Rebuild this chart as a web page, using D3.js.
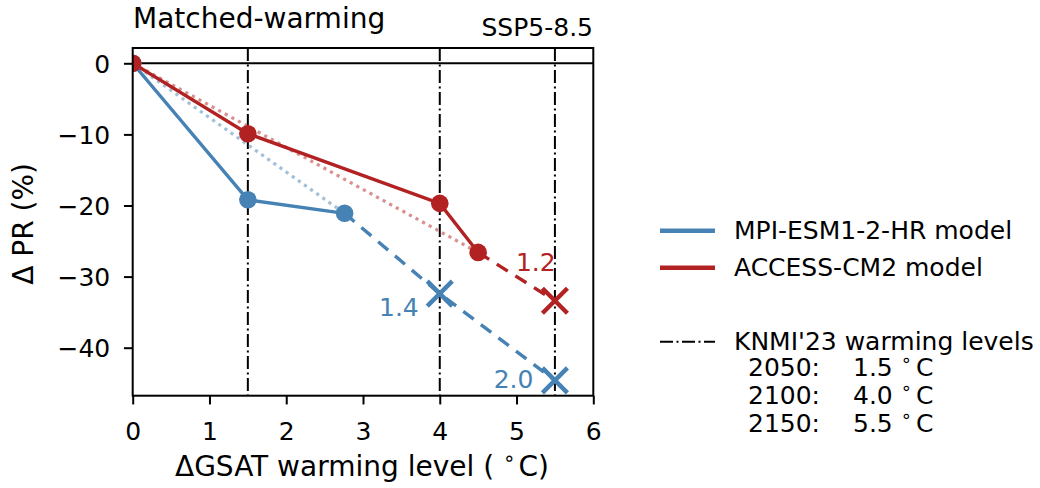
<!DOCTYPE html>
<html>
<head>
<meta charset="utf-8">
<script src="https://cdn.jsdelivr.net/npm/d3@7"></script>
<style>
  html, body { margin: 0; padding: 0; background: #fff; }
  svg { display: block; }
  text { font-family: "DejaVu Sans", sans-serif; fill: #000; }
</style>
</head>
<body>
<svg id="chart" width="1040" height="488"></svg>
<script>
// ---------------- data ----------------
const xTicks = [0, 1, 2, 3, 4, 5, 6];
const yTicks = [0, -10, -20, -30, -40];
const warmingLevels = [1.5, 4.0, 5.5];
const warmingYears = ["2050", "2100", "2150"];
const seriesNames = ["MPI-ESM1-2-HR model", "ACCESS-CM2 model"];
const seriesColors = ["#4682b4", "#b22222"];

// MPI-ESM1-2-HR: simulated warming levels
const mpiX = [0, 1.5, 2.76];
const mpiY = [0, -19.2, -21.1];
// MPI-ESM1-2-HR: extrapolated
const mpiExtX = [2.76, 4.0, 5.5];
const mpiExtY = [-21.1, -32.4, -44.6];
const mpiExtLabels = ["", "1.4", "2.0"];

// ACCESS-CM2: simulated warming levels
const accX = [0, 1.5, 4.0, 4.5];
const accY = [0, -9.9, -19.7, -26.6];
// ACCESS-CM2: extrapolated
const accExtX = [4.5, 5.5];
const accExtY = [-26.6, -33.4];
const accExtLabels = ["", "1.2"];

// ---------------- layout ----------------
const svg = d3.select("#chart");
const L = 132.7, R = 593.3, T = 48, B = 395.7;
const x = d3.scaleLinear().domain([0, 6]).range([L, R]);
const y = d3.scaleLinear().domain([-46.75, 2.15]).range([B, T]);
const FS = 25;   // ticks, legend, annotations
const FL = 28;   // axis labels, title

svg.append("rect").attr("width", 1040).attr("height", 488).attr("fill", "#fff");

svg.append("defs").append("clipPath").attr("id", "clip")
  .append("rect").attr("x", L).attr("y", T).attr("width", R - L).attr("height", B - T);

const plot = svg.append("g").attr("clip-path", "url(#clip)");

// zero line
plot.append("line")
  .attr("x1", L).attr("x2", R).attr("y1", y(0)).attr("y2", y(0))
  .attr("stroke", "#000").attr("stroke-width", 2);

// warming level vertical lines
plot.selectAll(".wl").data(warmingLevels).enter().append("line")
  .attr("x1", d => x(d)).attr("x2", d => x(d))
  .attr("y1", T).attr("y2", B)
  .attr("stroke", "#000").attr("stroke-width", 2)
  .attr("stroke-dasharray", "13,3.5,2,3.5");

const line = d3.line().x(d => x(d[0])).y(d => y(d[1]));
const zip = (a, b) => a.map((v, i) => [v, b[i]]);

const series = [
  { xs: mpiX, ys: mpiY, ex: mpiExtX, ey: mpiExtY, labels: mpiExtLabels, color: seriesColors[0] },
  { xs: accX, ys: accY, ex: accExtX, ey: accExtY, labels: accExtLabels, color: seriesColors[1] }
];

// dotted trend lines (first to last simulated point)
series.forEach(s => {
  const pts = zip(s.xs, s.ys);
  plot.append("path")
    .attr("d", line([pts[0], pts[pts.length - 1]]))
    .attr("fill", "none").attr("stroke", s.color).attr("stroke-opacity", 0.5)
    .attr("stroke-width", 3.2).attr("stroke-dasharray", "3.2,4.3");
});

// solid + dashed lines
series.forEach(s => {
  plot.append("path")
    .attr("d", line(zip(s.xs, s.ys)))
    .attr("fill", "none").attr("stroke", s.color).attr("stroke-width", 3.4);
  plot.append("path")
    .attr("d", line(zip(s.ex, s.ey)))
    .attr("fill", "none").attr("stroke", s.color).attr("stroke-width", 3.4)
    .attr("stroke-dasharray", "13,9");
});

// markers
series.forEach(s => {
  plot.selectAll(null).data(zip(s.xs, s.ys)).enter().append("circle")
    .attr("cx", d => x(d[0])).attr("cy", d => y(d[1])).attr("r", 8.8)
    .attr("fill", s.color);
  const cr = zip(s.ex, s.ey).slice(1);
  const h = 12.5;
  plot.selectAll(null).data(cr).enter().append("path")
    .attr("d", d => {
      const cx = x(d[0]), cy = y(d[1]);
      return `M${cx - h},${cy - h}L${cx + h},${cy + h}M${cx - h},${cy + h}L${cx + h},${cy - h}`;
    })
    .attr("stroke", s.color).attr("stroke-width", 4.4).attr("fill", "none");
});

// labels at extrapolated points
const labelOffsets = { "1.4": [-21, 22.4], "2.0": [-21.5, 7.6], "1.2": [0.8, -29.3] };
series.forEach(s => {
  zip(s.ex, s.ey).forEach((d, i) => {
    const t = s.labels[i];
    if (!t) return;
    const o = labelOffsets[t];
    svg.append("text")
      .attr("x", x(d[0]) + o[0]).attr("y", y(d[1]) + o[1])
      .attr("text-anchor", "end").attr("font-size", FS)
      .style("fill", s.color).text(t);
  });
});

// axes
const xAxis = svg.append("g").attr("transform", `translate(0,${B})`)
  .call(d3.axisBottom(x).tickValues(xTicks).tickSize(8.75).tickFormat(d3.format("d")));
xAxis.select(".domain").remove();
xAxis.selectAll(".tick line").attr("stroke", "#000").attr("stroke-width", 2);
xAxis.selectAll(".tick text").attr("y", 44.8).attr("dy", null)
  .attr("font-size", FS).attr("font-family", "DejaVu Sans").style("fill", "#000");

const yAxis = svg.append("g").attr("transform", `translate(${L},0)`)
  .call(d3.axisLeft(y).tickValues(yTicks).tickSize(8.75)
    .tickFormat(d => d < 0 ? "\u2212" + Math.abs(d) : String(d)));
yAxis.select(".domain").remove();
yAxis.selectAll(".tick line").attr("stroke", "#000").attr("stroke-width", 2);
yAxis.selectAll(".tick text").attr("x", -22.5).attr("dy", "0.37em")
  .attr("font-size", FS).attr("font-family", "DejaVu Sans").style("fill", "#000");

// spines
svg.append("rect").attr("x", L).attr("y", T).attr("width", R - L).attr("height", B - T)
  .attr("fill", "none").attr("stroke", "#000").attr("stroke-width", 2);

// titles
svg.append("text").attr("x", 133).attr("y", 28.3).attr("font-size", FL).text("Matched-warming");
svg.append("text").attr("x", 593).attr("y", 35.7).attr("text-anchor", "end")
  .attr("font-size", FS).text("SSP5-8.5");

// axis labels
const xl = svg.append("text").attr("x", (L + R) / 2 - 1).attr("y", 476).attr("text-anchor", "middle")
  .attr("font-size", FL);
xl.append("tspan").text("\u0394GSAT warming level ( ");
xl.append("tspan").attr("font-size", 20).attr("dy", -11).text("\u2218");
xl.append("tspan").attr("dy", 11).attr("dx", 3).text("C)");

svg.append("text")
  .attr("transform", `translate(33,${(T + B) / 2 + 2}) rotate(-90)`)
  .attr("text-anchor", "middle").attr("font-size", FL).text("\u0394 PR (%)");

// legend
const lg = svg.append("g");
seriesNames.forEach((name, i) => {
  const ly = 230.7 + i * 37;
  lg.append("line").attr("x1", 660).attr("x2", 715).attr("y1", ly).attr("y2", ly)
    .attr("stroke", seriesColors[i]).attr("stroke-width", 4.4);
  lg.append("text").attr("x", 734).attr("y", ly + 8.7).attr("font-size", FS).text(name);
});
lg.append("line").attr("x1", 660).attr("x2", 715).attr("y1", 341.7).attr("y2", 341.7)
  .attr("stroke", "#000").attr("stroke-width", 2).attr("stroke-dasharray", "13,3.5,2,3.5");
lg.append("text").attr("x", 734).attr("y", 350.4).attr("font-size", FS).text("KNMI'23 warming levels");
warmingYears.forEach((yr, i) => {
  const by = 375.5 + i * 28.1;
  lg.append("text").attr("x", 748).attr("y", by).attr("font-size", FS).text(yr + ":");
  const t = lg.append("text").attr("x", 853).attr("y", by).attr("font-size", FS);
  t.append("tspan").text(d3.format(".1f")(warmingLevels[i]) + " ");
  t.append("tspan").attr("font-size", 18).attr("dy", -10).text("\u2218");
  t.append("tspan").attr("dy", 10).attr("dx", 4).text("C");
});
</script>
</body>
</html>
